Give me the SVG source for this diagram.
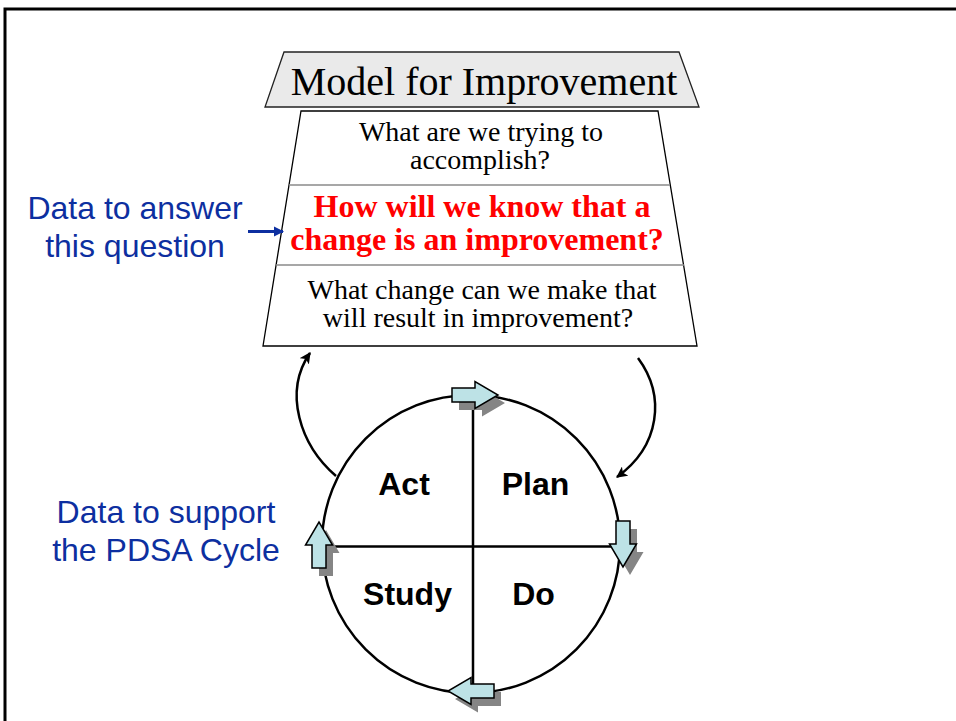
<svg xmlns="http://www.w3.org/2000/svg" width="956" height="721" viewBox="0 0 956 721">
  <style>
    .serif { font-family: "Liberation Serif", "Times New Roman", serif; text-anchor: middle; fill: #000; }
    .q { font-size: 28px; }
    .key { font-size: 32px; font-weight: bold; fill: #ff0000; }
    .note { font-family: "Liberation Sans", Arial, sans-serif; font-size: 32px; fill: #0d2fa0; text-anchor: middle; }
    .phase { font-family: "Liberation Sans", Arial, sans-serif; font-size: 32px; font-weight: bold; text-anchor: middle; fill: #000; }
    .conn { fill: none; stroke: #000; stroke-width: 2.5; }
    .block { fill: #bde2e6; stroke: #000; stroke-width: 1.5; stroke-linejoin: miter; }
    .shade { fill: #858585; }
  </style>
  <defs>
    <marker id="head" viewBox="0 0 10 10" refX="9" refY="5" markerWidth="4.5" markerHeight="4.5" orient="auto" markerUnits="strokeWidth">
      <path d="M0,0 L10,5 L0,10 L2.5,5 z" fill="#000"/>
    </marker>
    <marker id="blueHead" viewBox="0 0 10 10" refX="9" refY="5" markerWidth="3.5" markerHeight="3.5" orient="auto" markerUnits="strokeWidth">
      <path d="M0,0 L10,5 L0,10 z" fill="#0d2fa0"/>
    </marker>
    <!-- block arrow pointing right, origin at its centre -->
    <path id="blockArrow" d="M-23,-7 L0,-7 L0,-13.5 L23,0 L0,13.5 L0,7 L-23,7 z"/>
  </defs>

  <rect width="956" height="721" fill="#fff"/>

  <!-- page frame -->
  <rect x="5" y="9" width="1000" height="800" fill="none" stroke="#000" stroke-width="3"/>

  <!-- title banner -->
  <g id="title">
    <polygon points="284,52 679,52 699,107 265,107" fill="#eaeaea" stroke="#222" stroke-width="1.3"/>
    <text class="serif" x="484" y="95" font-size="40">Model for Improvement</text>
  </g>

  <!-- three questions -->
  <g id="questions">
    <polygon points="301,111 658,111 697,346 263,346" fill="#fff" stroke="#000" stroke-width="1.3"/>
    <line x1="289" y1="185" x2="670" y2="185" stroke="#8a8a8a" stroke-width="1.3"/>
    <line x1="276" y1="265" x2="684" y2="265" stroke="#8a8a8a" stroke-width="1.3"/>
  </g>
  <g id="q1">
    <text class="serif q" x="481" y="141">What are we trying to</text>
    <text class="serif q" x="480" y="169">accomplish?</text>
  </g>
  <g id="q2">
    <text class="serif key" x="482" y="217">How will we know that a</text>
    <text class="serif key" x="477" y="250">change is an improvement?</text>
  </g>
  <g id="q3">
    <text class="serif q" x="482" y="299">What change can we make that</text>
    <text class="serif q" x="478" y="327">will result in improvement?</text>
  </g>

  <!-- side notes -->
  <g id="note-answer">
    <text class="note" x="135" y="219">Data to answer</text>
    <text class="note" x="135" y="257">this question</text>
  </g>
  <g id="note-pdsa">
    <text class="note" x="166" y="523">Data to support</text>
    <text class="note" x="166" y="561">the PDSA Cycle</text>
  </g>

  <!-- PDSA cycle -->
  <g id="cycle">
    <circle cx="471" cy="544" r="149" fill="#fff" stroke="#000" stroke-width="2.5"/>
    <line x1="473" y1="396" x2="473" y2="692" stroke="#000" stroke-width="2.5"/>
    <line x1="322" y1="546.5" x2="620" y2="546.5" stroke="#000" stroke-width="2.5"/>
  </g>
  <g id="act"><text class="phase" x="404" y="495">Act</text></g>
  <g id="plan"><text class="phase" x="535.5" y="495">Plan</text></g>
  <g id="study"><text class="phase" x="407.5" y="605">Study</text></g>
  <g id="do"><text class="phase" x="533.5" y="605">Do</text></g>

  <!-- direction markers on the cycle -->
  <g id="turn-top">
    <use href="#blockArrow" class="shade" transform="translate(482,403)"/>
    <use href="#blockArrow" class="block" transform="translate(475,395)"/>
  </g>
  <g id="turn-right">
    <use href="#blockArrow" class="shade" transform="translate(630,552) rotate(90)"/>
    <use href="#blockArrow" class="block" transform="translate(623,544) rotate(90)"/>
  </g>
  <g id="turn-bottom">
    <use href="#blockArrow" class="shade" transform="translate(478,699) rotate(180)"/>
    <use href="#blockArrow" class="block" transform="translate(471,691) rotate(180)"/>
  </g>
  <g id="turn-left">
    <use href="#blockArrow" class="shade" transform="translate(326,553) rotate(-90)"/>
    <use href="#blockArrow" class="block" transform="translate(319,545) rotate(-90)"/>
  </g>

  <!-- connectors -->
  <g id="connectors">
    <path class="conn" d="M336,476 C300,445 283,392 310,353" marker-end="url(#head)"/>
    <path class="conn" d="M638,358 C666,396 660,446 617,477" marker-end="url(#head)"/>
    <line x1="248" y1="231.5" x2="283" y2="231.5" stroke="#0d2fa0" stroke-width="3" marker-end="url(#blueHead)"/>
  </g>
</svg>
